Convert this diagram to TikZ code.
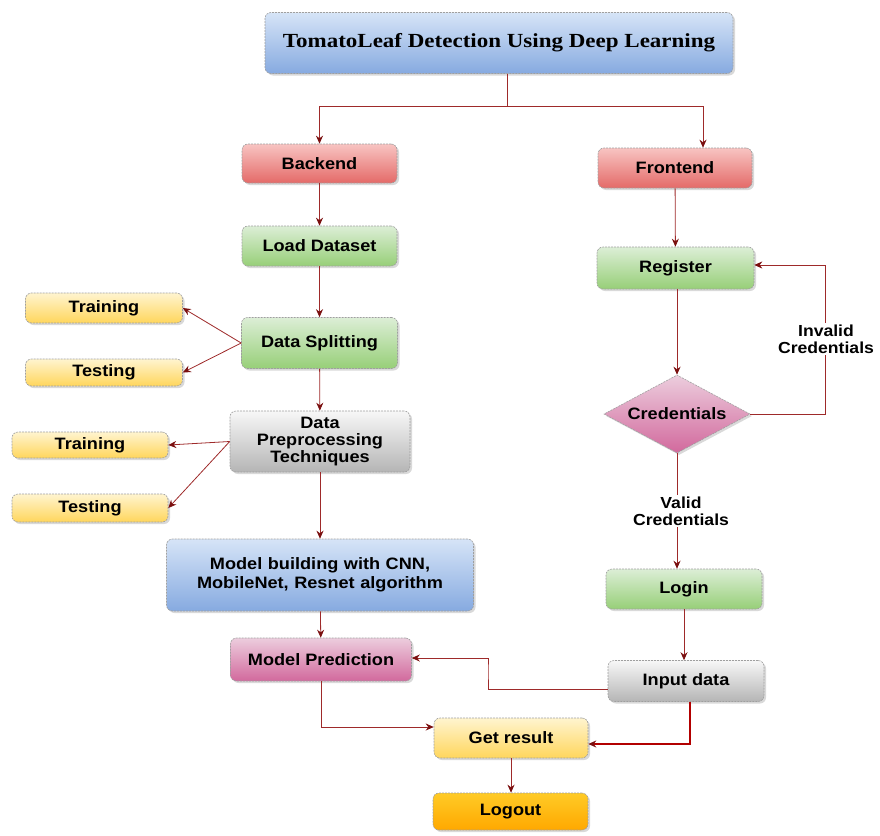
\documentclass[tikz,border=0pt]{standalone}
\usepackage{fontspec}
\setmainfont{Liberation Sans}[FakeStretch=1.1]
\newfontfamily\titlefont{Liberation Serif}[FakeStretch=1.15]
\usetikzlibrary{shapes.geometric,shadows,arrows.meta,calc}
\definecolor{lnred}{HTML}{9E2A2A}
\definecolor{tipred}{HTML}{7A0F0F}
\definecolor{blueT}{HTML}{D6E4F7}
\definecolor{blueB}{HTML}{86AAE0}
\definecolor{redT}{HTML}{F8C4C2}
\definecolor{redB}{HTML}{E46A68}
\definecolor{greenT}{HTML}{DCEED6}
\definecolor{greenB}{HTML}{97CF78}
\definecolor{yelT}{HTML}{FFF4CF}
\definecolor{yelB}{HTML}{FFD65C}
\definecolor{grayT}{HTML}{F7F7F7}
\definecolor{grayB}{HTML}{B5B5B5}
\definecolor{pinkT}{HTML}{ECCDDD}
\definecolor{pinkB}{HTML}{D2699D}
\definecolor{orT}{HTML}{FFCB26}
\definecolor{orB}{HTML}{FFA800}
\tikzset{
  box/.style={rectangle, rounded corners=6pt, draw=gray!75, dash pattern=on 2pt off 1pt,
    line width=0.6pt, align=center, inner sep=1pt,
    drop shadow={opacity=0.3, shadow xshift=2pt, shadow yshift=-2pt},
    font=\fontsize{16.5}{17}\selectfont\bfseries},
  blueb/.style={box, top color=blueT, bottom color=blueB},
  redb/.style={box, top color=redT, bottom color=redB},
  greenb/.style={box, top color=greenT, bottom color=greenB},
  yellowb/.style={box, top color=yelT, bottom color=yelB},
  grayb/.style={box, top color=grayT, bottom color=grayB},
  pinkb/.style={box, top color=pinkT, bottom color=pinkB},
  orangeb/.style={box, top color=orT, bottom color=orB},
  lbl/.style={fill=white, align=center, inner sep=2pt, font=\fontsize{16}{17}\selectfont\bfseries},
  conn/.style={draw=lnred, line width=0.8pt, -{Stealth[length=8pt,width=7pt,color=tipred]}},
  plain/.style={draw=lnred, line width=0.8pt},
}
\begin{document}
\begin{tikzpicture}[x=1pt,y=-1pt]
\useasboundingbox (0,0) rectangle (880,835);
% nodes
\node[blueb, minimum width=468, minimum height=61,
  font=\titlefont\fontsize{20}{22}\selectfont\bfseries] (title) at (499,43) {TomatoLeaf Detection Using Deep Learning};
\node[redb, minimum width=155, minimum height=39] (backend) at (319.5,163.5) {Backend};
\node[redb, minimum width=154, minimum height=40] (frontend) at (675,168) {Frontend};
\node[greenb, minimum width=155, minimum height=40] (load) at (319.5,246) {Load Dataset};
\node[greenb, minimum width=156, minimum height=51] (split) at (319.5,343) {Data Splitting};
\node[yellowb, minimum width=157, minimum height=30] (tr1) at (104,308) {Training};
\node[yellowb, minimum width=157, minimum height=27] (te1) at (104,372.5) {Testing};
\node[grayb, minimum width=180, minimum height=61, text width=170] (prep) at (320,441.5) {Data\\Preprocessing\\Techniques};
\node[yellowb, minimum width=156, minimum height=26] (tr2) at (90,445) {Training};
\node[yellowb, minimum width=156, minimum height=28] (te2) at (90,508) {Testing};
\node[blueb, minimum width=307, minimum height=72, text width=300, font=\fontsize{16.5}{19}\selectfont\bfseries] (model) at (320,575) {Model building with CNN,\\MobileNet, Resnet algorithm};
\node[pinkb, minimum width=181, minimum height=43] (pred) at (321,659.5) {Model Prediction};
\node[greenb, minimum width=157, minimum height=42] (register) at (675.5,268) {Register};
\node[pinkb, shape=diamond, rounded corners=0pt, aspect=1.87, inner sep=0pt, minimum width=146, minimum height=78] (cred) at (677,414) {Credentials};
\node[greenb, minimum width=156, minimum height=40] (login) at (684,589) {Login};
\node[grayb, minimum width=156, minimum height=41] (input) at (686,681) {Input data};
\node[yellowb, minimum width=154, minimum height=40] (get) at (511,738) {Get result};
\node[orangeb, minimum width=155, minimum height=37] (logout) at (510.5,811.5) {Logout};
% helper coordinates
\coordinate (j1) at (507,106);
\coordinate (fa) at (703,106);
\coordinate (invx) at (825,340);
\coordinate (mp) at (488,670);
% connectors
\draw[plain] (title.south -| j1) -- (j1);
\draw[conn] (j1) -| (backend.north);
\draw[conn] (j1) -- (fa) -- (fa |- frontend.north);
\draw[conn] (backend) -- (load);
\draw[conn] (load) -- (split);
\draw[conn] (split.west) -- (tr1.east);
\draw[conn] (split.west) -- (te1.east);
\draw[conn] (split) -- (prep);
\draw[conn] (prep.west) -- (tr2.east);
\draw[conn] (prep.west) -- (te2.east);
\draw[conn] (prep) -- (model);
\draw[conn] (model) -- (pred);
\draw[conn] (frontend) -- (register);
\draw[conn] (register.south -| cred.north) -- (cred.north);
\draw[conn] (cred.east) -| (invx) |- ([yshift=3pt]register.east);
\node[lbl] (invalid) at (826,339) {Invalid\\Credentials};
\draw[conn] (cred.south) -- (cred.south |- login.north);
\node[lbl] (valid) at (681,511) {Valid\\Credentials};
\draw[conn] (login) -- (login.south |- input.north);
\draw[conn] ([yshift=-8pt]input.west) -| (mp) |- ([yshift=1.5pt]pred.east);
\draw[conn] (pred.south) |- ([yshift=11pt]get.west);
\draw[conn, draw=red!70!black, line width=1.3pt] ([xshift=4pt]input.south) |- ([yshift=-6pt]get.east);
\draw[conn] (get.south) -- (get.south |- logout.north);
\end{tikzpicture}
\end{document}
